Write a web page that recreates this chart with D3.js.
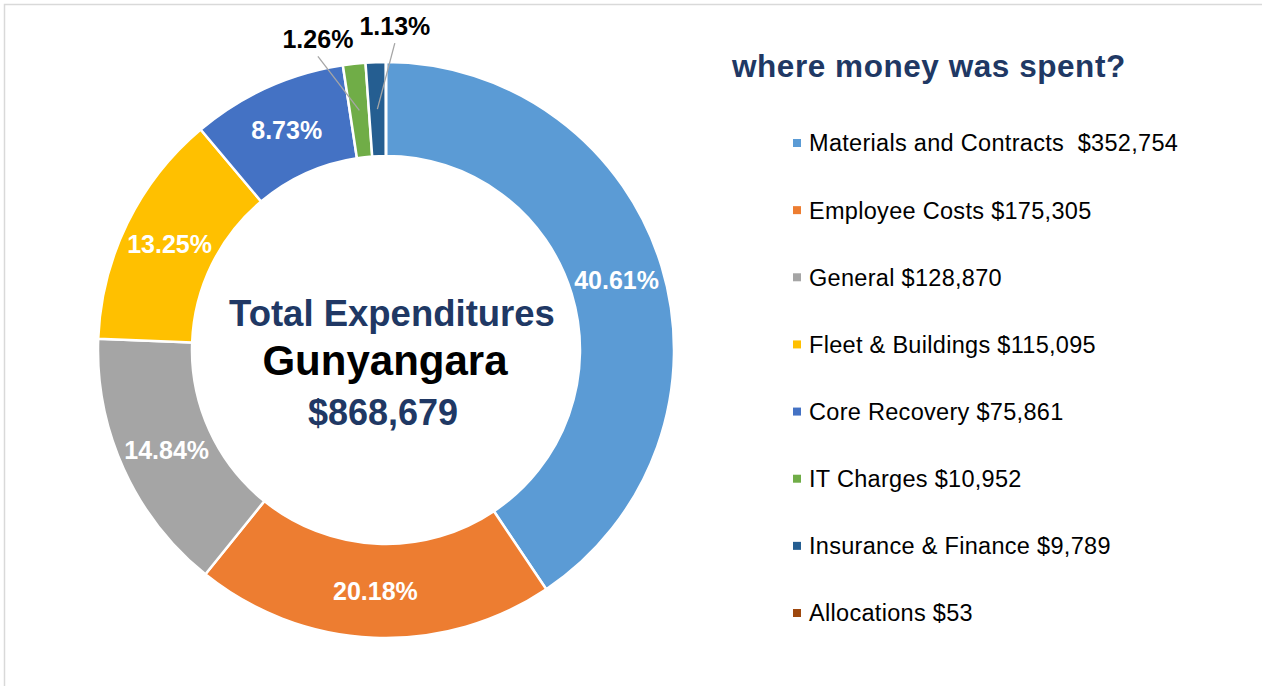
<!DOCTYPE html>
<head>
  <meta charset="utf-8">
  <script src="https://cdn.jsdelivr.net/npm/d3@7"></script>
  <style>
    body { margin: 0; background: #fff; }
    text { font-family: Arial, "Liberation Sans", sans-serif; }
    .legend-text { white-space: pre; }
  </style>
</head>
<body>
  <svg id="chart"></svg>
  <script>
    var width = 1262;
    var height = 686;

    // data
    var categories = ["Materials and Contracts", "Employee Costs", "General", "Fleet & Buildings",
                      "Core Recovery", "IT Charges", "Insurance & Finance", "Allocations"];
    var amounts = [352754, 175305, 128870, 115095, 75861, 10952, 9789, 53];
    var legendSep = ["  ", " ", " ", " ", " ", " ", " ", " "];
    var colors = ["#5B9BD5", "#ED7D31", "#A5A5A5", "#FFC000", "#4472C4", "#70AD47", "#255E91", "#9E480E"];
    var placeName = "Gunyangara";

    var data = categories.map(function(c, i) {
      return { name: c, value: amounts[i], sep: legendSep[i] };
    });
    var total = d3.sum(amounts);

    var svg = d3.select("#chart")
      .attr("width", width)
      .attr("height", height);

    // light frame
    svg.append("rect")
      .attr("x", 4.5).attr("y", 4.5)
      .attr("width", width + 10).attr("height", height + 10)
      .attr("fill", "none")
      .attr("stroke", "#d9d9d9")
      .attr("stroke-width", 1.5);

    var cx = 386, cy = 350;
    var outerR = 288, innerR = 194;

    var color = d3.scaleOrdinal().domain(categories).range(colors);

    var pie = d3.pie().sort(null).value(function(d) { return d.value; });
    var arc = d3.arc().innerRadius(innerR).outerRadius(outerR);
    var arcs = pie(data);

    var g = svg.append("g").attr("transform", "translate(" + cx + "," + cy + ")");

    g.selectAll("path.slice")
      .data(arcs).enter()
      .append("path")
      .attr("class", "slice")
      .attr("d", arc)
      .attr("fill", function(d) { return color(d.data.name); })
      .attr("stroke", "#fff")
      .attr("stroke-width", 2.5)
      .attr("stroke-linejoin", "round");

    var pct = function(d) { return d3.format(".2f")(d.value / total * 100) + "%"; };

    // labels inside the big slices
    g.selectAll("text.inlabel")
      .data(arcs.filter(function(d) { return d.value / total > 0.05; })).enter()
      .append("text")
      .attr("class", "inlabel")
      .attr("transform", function(d) { return "translate(" + arc.centroid(d) + ")"; })
      .attr("text-anchor", "middle")
      .attr("dy", "0.36em")
      .attr("fill", "#fff")
      .attr("font-weight", "bold")
      .attr("font-size", 25)
      .text(function(d) { return pct(d.data); });

    // outside labels for the thin slices (angle nudge, radius)
    var outside = { "IT Charges": [-0.105, 318], "Insurance & Finance": [0.063, 324] };
    var small = arcs.filter(function(d) { return outside[d.data.name]; });
    function labelPos(d) {
      var o = outside[d.data.name];
      var a = (d.startAngle + d.endAngle) / 2 + o[0];
      return [Math.sin(a) * o[1], -Math.cos(a) * o[1]];
    }

    g.selectAll("line.leader")
      .data(small).enter()
      .append("line")
      .attr("class", "leader")
      .attr("x1", function(d) { return labelPos(d)[0]; })
      .attr("y1", function(d) { return labelPos(d)[1] + 17; })
      .attr("x2", function(d) { return arc.centroid(d)[0]; })
      .attr("y2", function(d) { return arc.centroid(d)[1]; })
      .attr("stroke", "#a6a6a6")
      .attr("stroke-width", 1.3);

    g.selectAll("text.outlabel")
      .data(small).enter()
      .append("text")
      .attr("class", "outlabel")
      .attr("x", function(d) { return labelPos(d)[0]; })
      .attr("y", function(d) { return labelPos(d)[1]; })
      .attr("text-anchor", "middle")
      .attr("dy", "0.36em")
      .attr("fill", "#000")
      .attr("font-weight", "bold")
      .attr("font-size", 25)
      .text(function(d) { return pct(d.data); });

    // centre text
    var centre = svg.append("g").attr("text-anchor", "middle").attr("font-weight", "bold");
    centre.append("text")
      .attr("x", 392).attr("y", 326)
      .attr("font-size", 36.5)
      .attr("fill", "#203864")
      .text("Total Expenditures");
    centre.append("text")
      .attr("x", 385).attr("y", 375)
      .attr("font-size", 42)
      .attr("fill", "#000")
      .text(placeName);
    centre.append("text")
      .attr("x", 383).attr("y", 425)
      .attr("font-size", 36)
      .attr("fill", "#203864")
      .text("$" + d3.format(",")(total));

    // legend
    svg.append("text")
      .attr("x", 732).attr("y", 77)
      .attr("font-size", 31.5)
      .attr("font-weight", "bold")
      .attr("fill", "#203864")
      .attr("letter-spacing", 0.55)
      .text("where money was spent?");

    var legendY = d3.scalePoint().domain(categories).range([143, 613]);

    var items = svg.selectAll("g.legend-item")
      .data(data).enter()
      .append("g")
      .attr("class", "legend-item")
      .attr("transform", function(d) { return "translate(793," + legendY(d.name) + ")"; });

    items.append("rect")
      .attr("x", 0).attr("y", -4)
      .attr("width", 8).attr("height", 8)
      .attr("fill", function(d) { return color(d.name); });

    items.append("text")
      .attr("class", "legend-text")
      .attr("x", 16)
      .attr("dy", "0.36em")
      .attr("font-size", 23.5)
      .attr("letter-spacing", 0.3)
      .attr("fill", "#000")
      .text(function(d) { return d.name + d.sep + "$" + d3.format(",")(d.value); });
  </script>
</body>
